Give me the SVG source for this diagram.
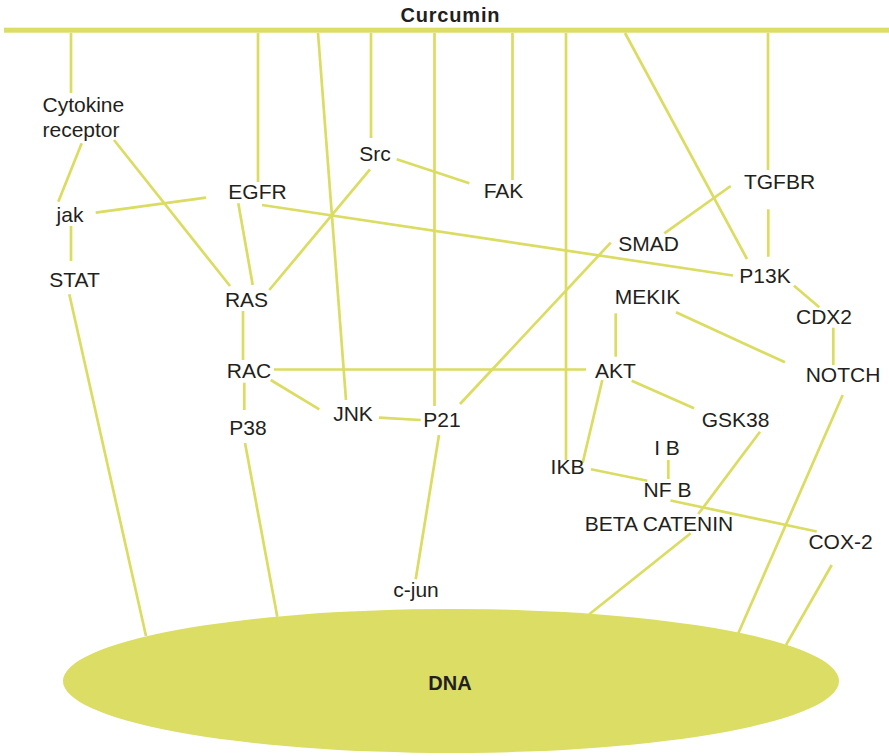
<svg xmlns="http://www.w3.org/2000/svg" width="889" height="756" viewBox="0 0 889 756">
  <style>
    .lbl { font-family: "Liberation Sans", Arial, Helvetica, sans-serif; font-size: 21px; fill: #231f20; text-anchor: middle; }
    .bold { font-weight: bold; font-size: 20px; }
    .edge { stroke: #dbdc62; stroke-width: 2.7; fill: none; stroke-linecap: butt; }
    .fillc { fill: #dbdd64; }
  </style>
  <rect width="889" height="756" fill="#ffffff"/>

  <!-- connectors -->
  <g id="connectors" class="edge">
    <!-- from the Curcumin bar -->
    <line x1="71" y1="33" x2="71" y2="93"/>
    <line x1="258" y1="33" x2="258" y2="182"/>
    <line x1="318" y1="33" x2="346" y2="400"/>
    <line x1="371" y1="33" x2="371" y2="138"/>
    <line x1="434.5" y1="33" x2="434.5" y2="406"/>
    <line x1="512.5" y1="33" x2="512.5" y2="180"/>
    <line x1="566" y1="33" x2="566" y2="460"/>
    <line x1="625" y1="33" x2="747" y2="259"/>
    <line x1="768" y1="33" x2="768" y2="170"/>
    <!-- left cluster -->
    <line x1="81.7" y1="143.3" x2="58.3" y2="201.7"/>
    <line x1="114" y1="140" x2="230" y2="286"/>
    <line x1="95.7" y1="212.7" x2="206" y2="197.7"/>
    <line x1="71" y1="226" x2="71" y2="261"/>
    <line x1="69.3" y1="294.3" x2="146" y2="636"/>
    <line x1="238.3" y1="203.3" x2="252.7" y2="285"/>
    <line x1="262" y1="205" x2="733" y2="275.5"/>
    <line x1="370" y1="169.3" x2="269.3" y2="290"/>
    <line x1="396.7" y1="159.3" x2="469.3" y2="183.3"/>
    <line x1="243" y1="311" x2="243" y2="360"/>
    <line x1="244.3" y1="382.7" x2="244.3" y2="410"/>
    <line x1="245" y1="443" x2="277.3" y2="616.7"/>
    <line x1="274" y1="369.5" x2="586" y2="369.5"/>
    <line x1="270.7" y1="380" x2="319.3" y2="409.3"/>
    <line x1="379" y1="417.7" x2="420.7" y2="420"/>
    <line x1="439" y1="435" x2="415.7" y2="579.3"/>
    <!-- right cluster -->
    <line x1="610.7" y1="242.7" x2="460" y2="404"/>
    <line x1="730.7" y1="186" x2="664.3" y2="233.3"/>
    <line x1="768.3" y1="209.3" x2="768.3" y2="256.7"/>
    <line x1="794" y1="285.7" x2="819.3" y2="307.3"/>
    <line x1="833.3" y1="327.7" x2="833.3" y2="365"/>
    <line x1="676" y1="312.3" x2="785" y2="362.3"/>
    <line x1="615.7" y1="313.3" x2="615.7" y2="356.7"/>
    <line x1="631.7" y1="380.7" x2="694" y2="408.3"/>
    <line x1="602.3" y1="380" x2="582.7" y2="462.7"/>
    <line x1="760" y1="431.7" x2="698.3" y2="514"/>
    <line x1="690.7" y1="533.3" x2="589.3" y2="614.3"/>
    <line x1="668.3" y1="460" x2="668.3" y2="479"/>
    <line x1="591" y1="469.3" x2="647.3" y2="480.7"/>
    <line x1="670.5" y1="500.5" x2="816.7" y2="531.5"/>
    <line x1="842.7" y1="395" x2="738.3" y2="633.3"/>
    <line x1="831.7" y1="565" x2="786" y2="645"/>
  </g>

  <!-- source: Curcumin bar -->
  <g id="curcumin">
    <rect class="fillc" x="4" y="27.7" width="885" height="5"/>
    <text class="lbl bold" x="450" y="22" textLength="99">Curcumin</text>
  </g>

  <!-- target: DNA -->
  <g id="dna">
    <ellipse class="fillc" cx="451" cy="681" rx="388" ry="72"/>
    <text class="lbl bold" x="450" y="690">DNA</text>
  </g>

  <g id="cytokine-receptor">
    <text class="lbl" x="42.5" y="112" style="text-anchor:start">Cytokine</text>
    <text class="lbl" x="42.5" y="136.7" style="text-anchor:start">receptor</text>
  </g>
  <g id="jak"><text class="lbl" x="70" y="221.7">jak</text></g>
  <g id="stat"><text class="lbl" x="74.5" y="286.7">STAT</text></g>
  <g id="egfr"><text class="lbl" x="257.5" y="199">EGFR</text></g>
  <g id="ras"><text class="lbl" x="246.5" y="306.7">RAS</text></g>
  <g id="src"><text class="lbl" x="375" y="161">Src</text></g>
  <g id="fak"><text class="lbl" x="503.5" y="197.7">FAK</text></g>
  <g id="smad"><text class="lbl" x="648.5" y="250.5">SMAD</text></g>
  <g id="mekik"><text class="lbl" x="647.5" y="303.5">MEKIK</text></g>
  <g id="tgfbr"><text class="lbl" x="779.5" y="189">TGFBR</text></g>
  <g id="p13k"><text class="lbl" x="765" y="282.7">P13K</text></g>
  <g id="cdx2"><text class="lbl" x="824" y="324">CDX2</text></g>
  <g id="notch"><text class="lbl" x="843" y="382">NOTCH</text></g>
  <g id="akt"><text class="lbl" x="615.5" y="377.7">AKT</text></g>
  <g id="gsk38"><text class="lbl" x="735.5" y="426.7">GSK38</text></g>
  <g id="ib"><text class="lbl" x="667" y="455">I B</text></g>
  <g id="ikb"><text class="lbl" x="567.5" y="474">IKB</text></g>
  <g id="nfb"><text class="lbl" x="667.5" y="496.7">NF B</text></g>
  <g id="beta-catenin"><text class="lbl" x="659" y="530.7">BETA CATENIN</text></g>
  <g id="cox2"><text class="lbl" x="840.5" y="549">COX-2</text></g>
  <g id="rac"><text class="lbl" x="249" y="377.7">RAC</text></g>
  <g id="p38"><text class="lbl" x="248" y="435">P38</text></g>
  <g id="jnk"><text class="lbl" x="353" y="420.7">JNK</text></g>
  <g id="p21"><text class="lbl" x="442" y="426.7">P21</text></g>
  <g id="c-jun"><text class="lbl" x="416" y="596.7">c-jun</text></g>
</svg>
